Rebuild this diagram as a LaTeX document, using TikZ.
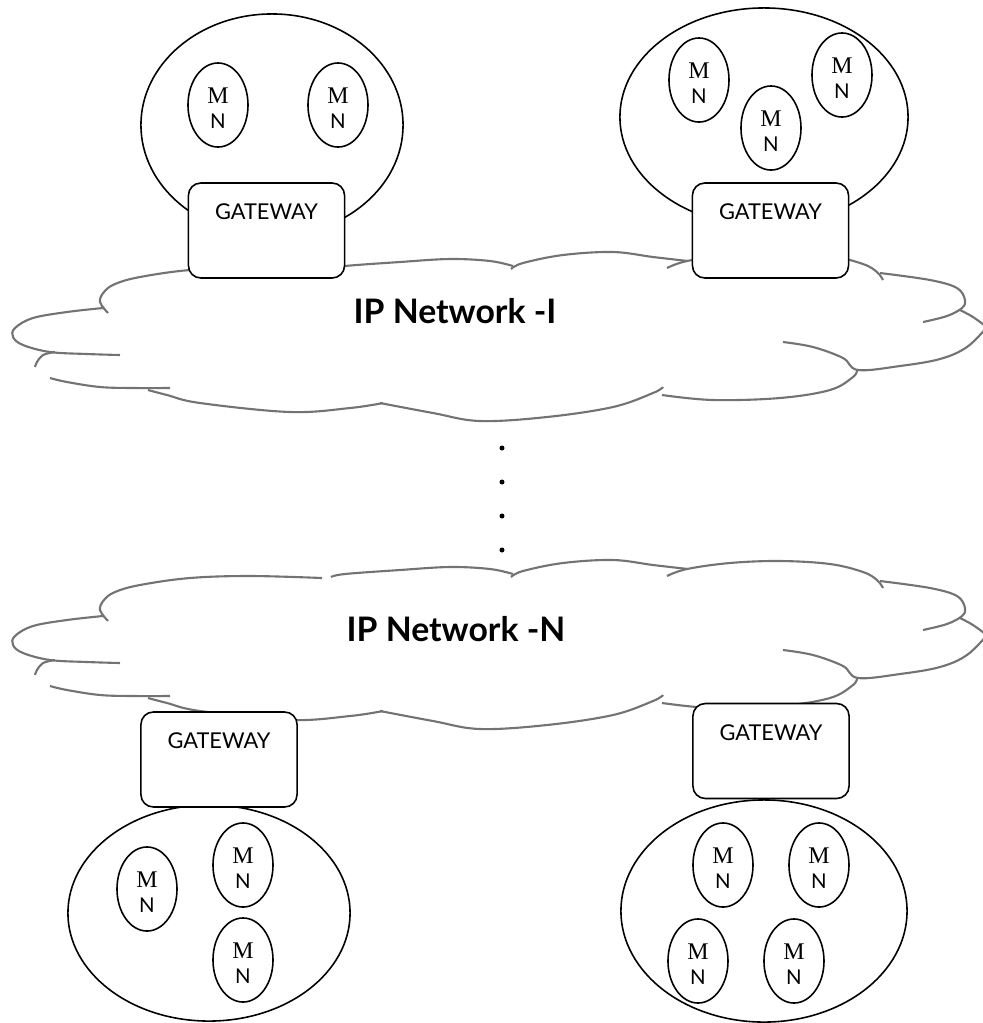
\documentclass[tikz,border=0pt]{standalone}
\usepackage{fontspec}
\setmainfont{Lato}
\newfontfamily\mnfont{Liberation Serif}
\usetikzlibrary{shapes.geometric, positioning}

\begin{document}
\begin{tikzpicture}[x=0.01cm, y=-0.01cm,
  cl/.style={ellipse, draw, line width=0.45pt, inner sep=0pt},
  mn/.style={ellipse, draw, line width=0.45pt, inner sep=0pt, minimum width=0.6cm, minimum height=0.84cm, align=center, text height=13.4pt, text depth=0pt, font=\fontsize{5.8}{7.1}\selectfont},
  gw/.style={rectangle, rounded corners=3.5pt, draw, fill=white, line width=0.45pt, minimum width=1.56cm, inner xsep=0pt, inner ysep=6pt, text height=4.5pt, text depth=10.5pt, font=\fontsize{6.2}{7}\selectfont},
  cloud/.style={draw=black!55, line width=0.6pt, smooth, tension=0.6},
  net/.style={font=\fontsize{9.6}{11}\selectfont\bfseries},
  dot/.style={circle, fill=black, inner sep=0pt, minimum size=0.05cm}]
  \useasboundingbox (0,0) rectangle (983,1023);
  \clip (0,0) rectangle (983,1023);

  % the two IP clouds (same outline)
  \foreach \dy in {0,308}{
  \begin{scope}[shift={(0,\dy)}]
    \draw[cloud] plot coordinates {(108,313) (100,302) (104,292) (115,284) (140,277) (190,270) (250,268) (322,270)};
    \draw[cloud] plot coordinates {(103,308) (67,312) (33,318) (15,328) (13,337) (23,345) (50,352) (87,354) (120,355)};
    \draw[cloud] plot coordinates {(55,352) (43,355) (37,362) (35,367)};
    \draw[cloud] plot coordinates {(50,378) (67,382) (100,387) (133,388) (170,388)};
    \draw[cloud] plot coordinates {(148,390) (167,395) (200,403) (290,412) (350,408) (383,403)};
    \draw[cloud] plot coordinates {(380,403) (433,413) (480,421) (547,417) (613,407) (653,393) (663,387)};
    \draw[cloud] plot coordinates {(662,395) (713,400) (780,398) (830,390) (853,377) (857,370)};
    \draw[cloud] plot coordinates {(783,342) (813,347) (843,358) (858,370) (900,366) (940,359) (967,347) (988,326)};
    \draw[cloud] plot coordinates {(923,322) (947,316) (962,308) (965,300) (957,288) (930,280) (880,273)};
    \draw[cloud] plot coordinates {(960,310) (973,317) (988,328)};
    \draw[cloud] plot coordinates {(667,268) (687,261) (730,255) (780,253) (830,256) (863,264) (877,272) (883,280)};
    \draw[cloud] plot coordinates {(331,269) (345,266) (400,262) (450,259) (490,261) (513,266)};
    \draw[cloud] plot coordinates {(511,269) (523,263) (563,255) (613,252) (653,257) (688,261)};
  \end{scope}}

  \node[net] (netI) at (455,311) {IP Network -I};
  \node[net] (netN) at (456,629) {IP Network -N};
  \foreach \i/\y in {1/448,2/482,3/516,4/550}
    \node[dot] (dot\i) at (502,\y) {};

  % top left
  \node[cl, minimum width=2.62cm, minimum height=2.22cm] (lanA) at (272,125) {};
  \node[mn] (mnA1) at (218,105) {{\mnfont\fontsize{6.8}{7.1}\selectfont M}\\N};
  \node[mn] (mnA2) at (338,105) {{\mnfont\fontsize{6.8}{7.1}\selectfont M}\\N};
  \node[gw] (gwA) at (266.5,230.5) {GATEWAY};

  % top right
  \node[cl, minimum width=2.88cm, minimum height=2.18cm] (lanB) at (764,117) {};
  \node[mn] (mnB1) at (699,80) {{\mnfont\fontsize{6.8}{7.1}\selectfont M}\\N};
  \node[mn] (mnB2) at (771,128) {{\mnfont\fontsize{6.8}{7.1}\selectfont M}\\N};
  \node[mn] (mnB3) at (842,75) {{\mnfont\fontsize{6.8}{7.1}\selectfont M}\\N};
  \node[gw] (gwB) at (770.5,230.5) {GATEWAY};

  % bottom left
  \node[cl, minimum width=2.82cm, minimum height=2.16cm] (lanC) at (209,913) {};
  \node[mn] (mnC1) at (147,889) {{\mnfont\fontsize{6.8}{7.1}\selectfont M}\\N};
  \node[mn] (mnC2) at (243,865) {{\mnfont\fontsize{6.8}{7.1}\selectfont M}\\N};
  \node[mn] (mnC3) at (243,960) {{\mnfont\fontsize{6.8}{7.1}\selectfont M}\\N};
  \node[gw] (gwC) at (219,759.5) {GATEWAY};

  % bottom right
  \node[cl, minimum width=2.86cm, minimum height=2.22cm] (lanD) at (764,911) {};
  \node[mn] (mnD1) at (723,865) {{\mnfont\fontsize{6.8}{7.1}\selectfont M}\\N};
  \node[mn] (mnD2) at (819,865) {{\mnfont\fontsize{6.8}{7.1}\selectfont M}\\N};
  \node[mn] (mnD3) at (698,961) {{\mnfont\fontsize{6.8}{7.1}\selectfont M}\\N};
  \node[mn] (mnD4) at (794,961) {{\mnfont\fontsize{6.8}{7.1}\selectfont M}\\N};
  \node[gw] (gwD) at (771,751) {GATEWAY};
\end{tikzpicture}
\end{document}
